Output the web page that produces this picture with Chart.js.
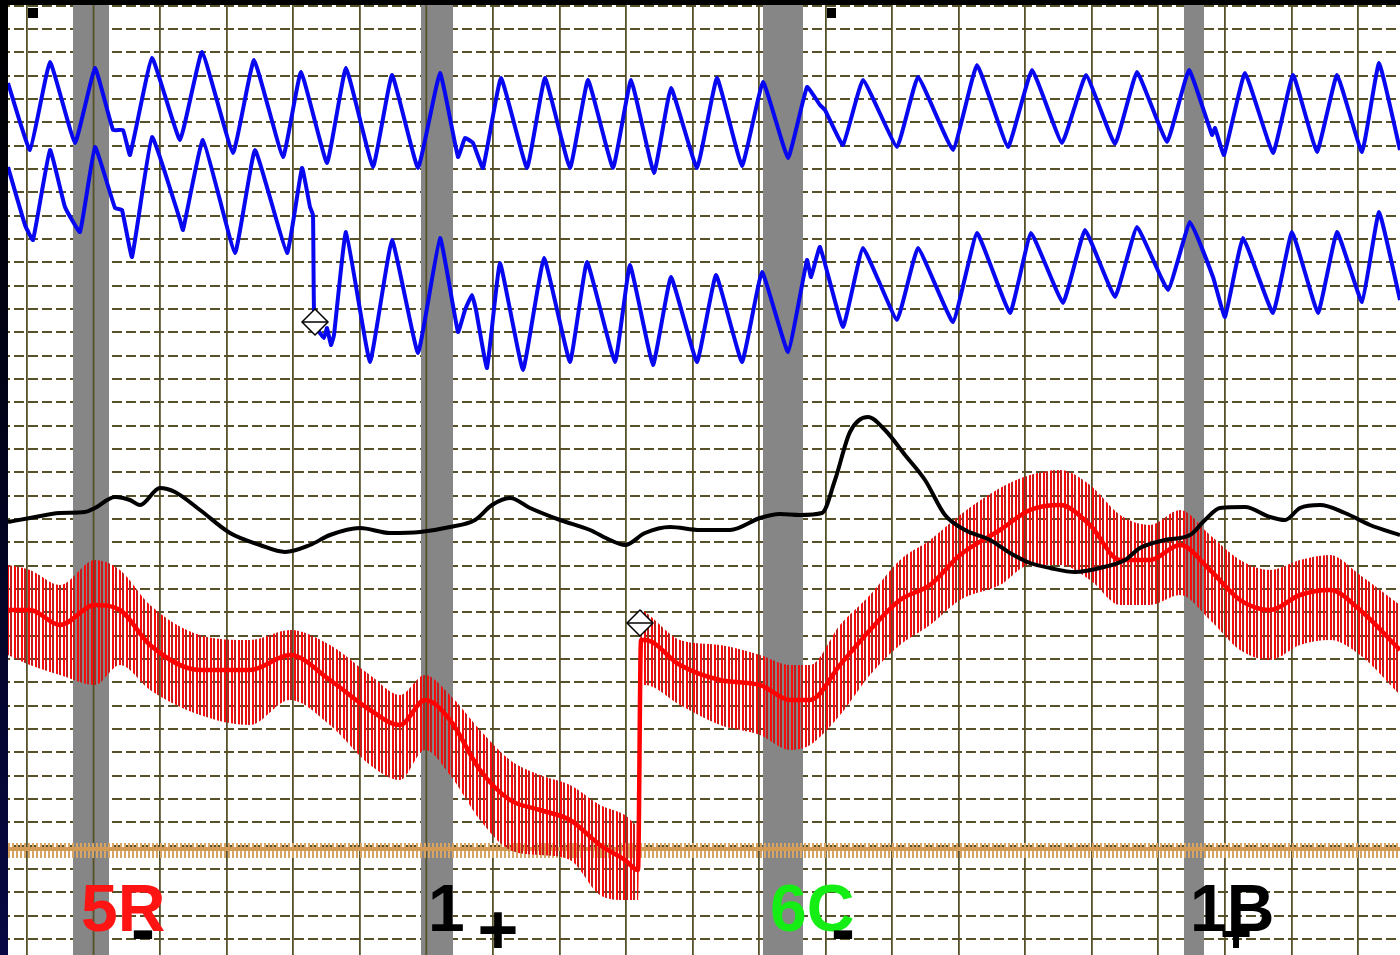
<!DOCTYPE html>
<html>
<head>
<meta charset="utf-8">
<script src="https://cdn.jsdelivr.net/npm/chart.js@4.4.1/dist/chart.umd.min.js"></script>
<style>
  html, body { margin: 0; padding: 0; background: #fff; }
  #wrap { width: 1400px; height: 955px; position: relative; }
</style>
</head>
<body>
<div id="wrap"><canvas id="chart"></canvas></div>
<script>
// upper pneumo (blue)
const pn1X = [8,30,50,75,95,113,123,130,152,180,202,233,254,283,301,327,346,373,392,418,440,458,465,473,483,501,527,545,570,588,613,631,654,671,697,717,742,763,788,807,820,825,843,863,897,918,953,977,1008,1032,1062,1086,1115,1137,1167,1189,1212,1215,1224,1245,1273,1293,1317,1337,1362,1379,1400];
const pn1Y = [83,150,62,143,68,130,130,155,58,140,52,153,60,157,72,163,68,167,75,168,73,157,138,143,168,78,168,78,168,80,168,80,173,88,168,78,166,82,158,87,105,110,145,80,147,77,150,65,147,70,143,75,144,72,142,70,135,128,155,73,153,75,152,75,152,63,150];

// lower pneumo (blue)
const pn2X = [8,25,33,50,65,80,95,115,122,132,152,180,183,203,235,255,287,302,310,313,314,318,324,327,331,334,346,370,392,418,440,458,465,472,476,487,500,523,544,570,587,615,630,653,671,697,716,742,762,788,807,811,820,843,863,897,918,953,977,1010,1031,1063,1085,1115,1137,1168,1190,1213,1225,1243,1273,1292,1318,1337,1362,1379,1400];
const pn2Y = [167,225,240,150,207,232,147,208,210,257,137,220,230,140,253,150,253,168,207,215,310,330,338,328,345,335,232,362,240,353,238,332,310,295,310,368,263,370,258,362,262,362,265,365,277,362,275,362,272,352,260,277,247,327,248,320,248,322,233,313,233,303,230,297,227,290,222,277,317,238,313,232,313,232,302,212,300];

// electrodermal (black)
const edaX = [8,30,60,85,95,115,130,140,160,175,200,230,260,285,310,330,360,390,420,450,475,492,510,530,560,590,610,625,645,670,700,730,760,780,800,822,835,850,868,885,905,925,945,965,990,1010,1030,1050,1075,1100,1125,1140,1165,1190,1205,1220,1245,1270,1285,1300,1320,1345,1370,1400];
const edaY = [522,518,513,512,508,497,500,505,488,492,510,533,545,552,545,535,528,533,532,527,520,505,498,508,520,530,540,545,533,527,530,530,518,514,515,513,480,432,417,430,455,480,515,530,540,553,563,568,572,568,560,548,540,535,520,508,507,517,520,508,505,513,525,535];

// cardio (red): envelope of the pulse strokes and its midline
const cardX   = [8,30,60,95,120,150,200,250,290,330,370,400,425,450,480,510,540,570,600,625,638,641,645,680,720,760,790,810,840,870,900,930,960,1000,1030,1060,1090,1120,1150,1180,1210,1240,1270,1300,1330,1360,1400];
const cardTop = [565,570,585,560,570,605,635,640,630,645,675,695,675,695,730,760,775,785,805,815,825,610,612,640,645,655,665,665,625,595,560,540,515,488,475,470,485,515,525,510,535,560,570,560,555,575,605];
const cardMid = [610,610,625,605,610,645,670,670,655,680,710,725,700,720,770,800,810,820,845,860,870,640,640,665,680,685,700,700,665,630,600,585,555,530,510,505,525,560,560,545,570,600,610,595,590,610,650];
const cardLow = [655,665,675,685,665,690,715,725,700,725,765,780,750,775,820,850,855,860,895,900,900,685,685,705,725,735,750,745,715,675,645,625,600,585,565,565,580,605,605,595,620,650,660,645,640,655,695];

// movement sensor (tan)
const moveX = [0,1400];
const moveMid = [849,849];
const moveTop = [843,843];
const moveLow = [858,858];

// question bands and markers
const questionBands = [[73,109],[421,453],[763,803],[1184,1204]];
const markX = [315,640];
const markY = [322,623];

// question labels
const labelText  = ['5R','1','6C','1B'];
const labelX     = [81,428,770,1190];
const labelColor = ['#ff1414','#000000','#14ee14','#000000'];
const signText = ['-','+','-','+'];
const signX    = [143,498,843,1236];

const gridColor = '#57512a';
const pts = (xs, ys) => xs.map((v, i) => ({x: v, y: ys[i]}));

function stripes(period, width, color, color2, width2) {
  const c = document.createElement('canvas');
  c.width = period; c.height = 8;
  const g = c.getContext('2d');
  g.fillStyle = color;
  g.fillRect(0, 0, width, 8);
  if (color2) { g.fillStyle = color2; g.fillRect(width + 1, 0, width2 || 1, 8); }
  return g.createPattern(c, 'repeat');
}

const bandPlugin = {
  id: 'bands',
  beforeDatasetsDraw(chart) {
    const {ctx, chartArea, scales: {x}} = chart;
    ctx.save();
    ctx.fillStyle = '#868686';
    questionBands.forEach(([a, b]) => {
      const x0 = x.getPixelForValue(a), x1 = x.getPixelForValue(b);
      ctx.fillRect(x0, chartArea.top, x1 - x0, chartArea.bottom - chartArea.top);
    });
    // vertical grid lines stay visible inside the bands
    ctx.strokeStyle = gridColor;
    ctx.lineWidth = 1.8;
    x.ticks.forEach(t => {
      if (questionBands.some(([a, b]) => t.value > a && t.value < b)) {
        const px = x.getPixelForValue(t.value);
        ctx.beginPath();
        ctx.moveTo(px, chartArea.top);
        ctx.lineTo(px, chartArea.bottom);
        ctx.stroke();
      }
    });
    ctx.restore();
  },
  afterDatasetsDraw(chart) {
    const {ctx, scales: {x}} = chart;
    ctx.save();
    ctx.textAlign = 'left';
    ctx.textBaseline = 'alphabetic';
    ctx.font = 'bold 66px "Liberation Sans", Arial, sans-serif';
    labelText.forEach((t, i) => {
      ctx.fillStyle = labelColor[i];
      ctx.fillText(t, x.getPixelForValue(labelX[i]), 931);
    });
    ctx.fillStyle = '#000';
    ctx.textAlign = 'center';
    signText.forEach((t, i) => {
      const px = x.getPixelForValue(signX[i]);
      if (t === '-') {
        ctx.font = 'bold 72px "Liberation Sans", Arial, sans-serif';
        ctx.fillText(t, px, 953);
      } else {
        const big = i === 1;
        ctx.font = (big ? 'bold 70px' : 'bold 54px') + ' "Liberation Sans", Arial, sans-serif';
        ctx.fillText(t, px, big ? 954 : 952);
      }
    });
    ctx.restore();
  },
  afterDraw(chart) {
    const {ctx, height, width} = chart;
    ctx.save();
    const grad = ctx.createLinearGradient(0, 0, 0, height);
    grad.addColorStop(0, '#000000');
    grad.addColorStop(0.45, '#02021a');
    grad.addColorStop(1, '#080845');
    ctx.fillStyle = grad;
    ctx.fillRect(0, 0, 8, height);
    ctx.fillStyle = '#000';
    ctx.fillRect(0, 0, width, 5);
    ctx.fillRect(28, 8, 10, 10);
    ctx.fillRect(827, 8, 9, 10);
    ctx.restore();
  }
};

const ctx = document.getElementById('chart').getContext('2d');
new Chart(ctx, {
  type: 'line',
  data: {
    datasets: [
      { data: pts(markX, markY), showLine: false, pointStyle: 'rectRot', pointRadius: 13,
        pointBackgroundColor: '#fff', pointBorderColor: '#000', pointBorderWidth: 1.5, order: 1 },
      { data: pts(markX, markY), showLine: false, pointStyle: 'line', pointRadius: 13,
        pointBorderColor: '#000', pointBorderWidth: 1.5, order: 0 },
      { data: pts(pn1X, pn1Y), borderColor: '#0808f0', borderWidth: 4, tension: 0.1, pointRadius: 0, order: 2 },
      { data: pts(pn2X, pn2Y), borderColor: '#0808f0', borderWidth: 4, tension: 0.1, pointRadius: 0, order: 3 },
      { data: pts(edaX, edaY), borderColor: '#000', borderWidth: 4, cubicInterpolationMode: 'monotone', pointRadius: 0, order: 4 },
      { data: pts(cardX, cardMid), borderColor: '#ff0000', borderWidth: 4.5, cubicInterpolationMode: 'monotone', pointRadius: 0, order: 5 },
      { data: pts(cardX, cardTop), borderWidth: 0, pointRadius: 0, cubicInterpolationMode: 'monotone',
        fill: {target: '+1'}, backgroundColor: stripes(7, 2, '#ff0a0a', '#c41a1a', 2), order: 6 },
      { data: pts(cardX, cardLow), borderWidth: 0, pointRadius: 0, cubicInterpolationMode: 'monotone', order: 7 },
      { data: pts(moveX, moveMid), borderColor: '#d29a55', borderWidth: 4, pointRadius: 0, order: 8 },
      { data: pts(moveX, moveTop), borderWidth: 0, pointRadius: 0,
        fill: {target: '+1'}, backgroundColor: stripes(4, 2, '#d8a664'), order: 9 },
      { data: pts(moveX, moveLow), borderWidth: 0, pointRadius: 0, order: 10 }
    ]
  },
  options: {
    responsive: true,
    maintainAspectRatio: false,
    animation: false,
    layout: { padding: 0, autoPadding: false },
    plugins: { legend: { display: false }, tooltip: { enabled: false } },
    scales: {
      x: {
        type: 'linear', min: 0, max: 1400,
        afterBuildTicks: axis => { axis.ticks = Array.from({length: 21}, (_, k) => ({value: 27 + 66.55 * k})); },
        ticks: { display: false },
        grid: { color: gridColor, lineWidth: 1.8, drawTicks: false },
        border: { display: false }
      },
      y: {
        type: 'linear', min: 0, max: 955, reverse: true,
        afterBuildTicks: axis => { axis.ticks = Array.from({length: 41}, (_, k) => ({value: 5.7 + 23.33 * k})); },
        ticks: { display: false },
        grid: { color: gridColor, lineWidth: 2, drawTicks: false },
        border: { display: false, dash: [10, 4] }
      }
    }
  },
  plugins: [bandPlugin]
});
</script>
</body>
</html>
